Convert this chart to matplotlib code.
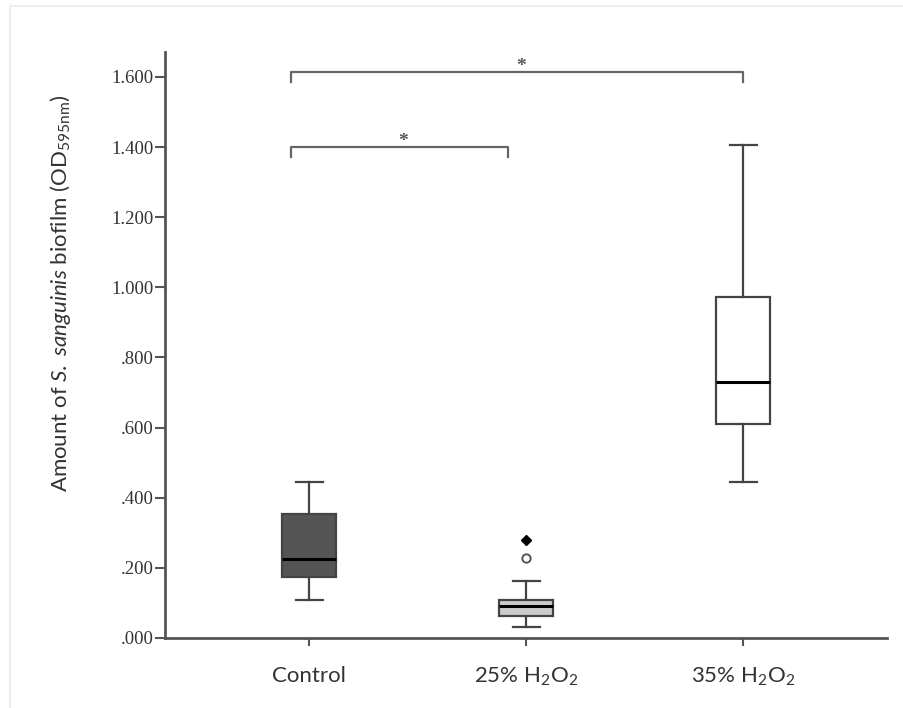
import matplotlib.pyplot as plt
from matplotlib.lines import Line2D

plt.rcParams['font.family'] = ['Lato', 'DejaVu Sans']
plt.rcParams['mathtext.fontset'] = 'custom'
plt.rcParams['mathtext.rm'] = 'Lato'
plt.rcParams['mathtext.it'] = 'Lato:italic'

# box summaries read per group
groups = ['Control', '25% H$_2$O$_2$', '35% H$_2$O$_2$']
whis_lo = [0.108, 0.032, 0.444]
q1 = [0.174, 0.064, 0.610]
medians = [0.224, 0.091, 0.729]
q3 = [0.354, 0.107, 0.971]
whis_hi = [0.446, 0.163, 1.406]
box_colors = ['#555555', '#cccccc', '#ffffff']

# 25% group outliers: open circle and extreme value
outlier_vals = [0.229]
extreme_vals = [0.280]

# significance brackets: (left, right, height)
brackets = [(0.914, 1.914, 1.401), (0.914, 3.0, 1.613)]

fig = plt.figure(figsize=(9.04, 7.08), dpi=100)
ax = fig.add_axes([0.1825, 0.0989, 0.7985, 0.8271])

stats = []
for i in range(3):
    stats.append(dict(med=medians[i], q1=q1[i], q3=q3[i],
                      whislo=whis_lo[i], whishi=whis_hi[i], fliers=[]))

edge = '#444444'
bp = ax.bxp(stats, positions=[1, 2, 3], widths=0.25, patch_artist=True,
            showfliers=False,
            boxprops=dict(edgecolor=edge, linewidth=1.6),
            whiskerprops=dict(color=edge, linewidth=1.6),
            capprops=dict(color=edge, linewidth=1.6),
            medianprops=dict(color='black', linewidth=2.2),
            capwidths=0.125)
for patch, c in zip(bp['boxes'], box_colors):
    patch.set_facecolor(c)

ax.plot([2] * len(outlier_vals), outlier_vals, 'o', ms=6, mfc='white',
        mec='#555555', mew=1.4)
ax.plot([2] * len(extreme_vals), extreme_vals, 'D', ms=5.5, color='black')

for x0, x1, h in brackets:
    ax.plot([x0, x0, x1, x1], [h - 0.028, h, h, h - 0.028], color='#666666',
            lw=1.6, solid_joinstyle='round')
    ax.text((x0 + x1) / 2 + 0.02, h - 0.008, '*', ha='center', va='bottom',
            fontsize=14, family='Liberation Serif', weight='bold',
            color='#555555')

ax.set_xlim(0.335, 3.662)
ax.set_ylim(0, 1.67)
yt = [0, 0.2, 0.4, 0.6, 0.8, 1.0, 1.2, 1.4, 1.6]
ax.set_yticks(yt)
ax.set_yticklabels([('%.3f' % v).lstrip('0') if v < 1 else '%.3f' % v for v in yt],
                   family='Liberation Serif', fontsize=13.5, color='#333333')
ax.set_xticks([1, 2, 3])
ax.set_xticklabels(groups, fontsize=16, color='#333333')

for s in ['top', 'right']:
    ax.spines[s].set_visible(False)
for s in ['left', 'bottom']:
    ax.spines[s].set_color('#555555')
    ax.spines[s].set_linewidth(2)
ax.tick_params(axis='y', length=7.5, width=1.5, color='#555555', pad=0.5)
ax.tick_params(axis='x', length=6, width=1.5, color='#555555', pad=14)

fig.text(0.067, 0.586,
         r'Amount of $\mathit{S.\ sanguinis}$ biofilm (OD$_{\mathrm{595nm}}$)',
         rotation=90, ha='center', va='center', fontsize=16, color='#333333')

# thin frame lines along top and left edges
fig.add_artist(Line2D([0.011, 0.011], [0, 0.992], transform=fig.transFigure,
                      color='#eeeeee', lw=1.5))
fig.add_artist(Line2D([0.011, 1], [0.992, 0.992], transform=fig.transFigure,
                      color='#eeeeee', lw=1.5))

fig.savefig('out.png', dpi=100)
